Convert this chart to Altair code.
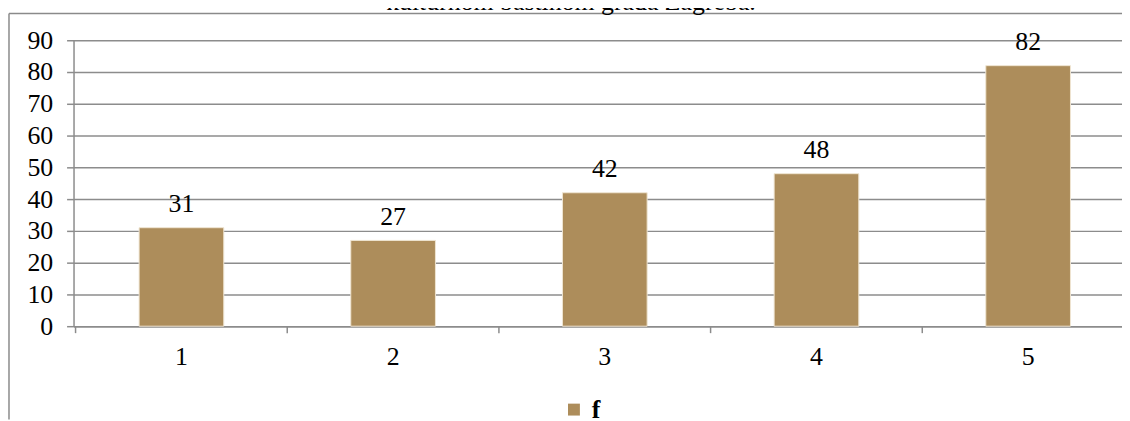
import altair as alt
import pandas as pd

categories = ["1", "2", "3", "4", "5"]
values = [31, 27, 42, 48, 82]
series_name = "f"
title_text = "kulturnom baštinom grada Zagreba."
y_ticks = [0, 10, 20, 30, 40, 50, 60, 70, 80, 90]

df = pd.DataFrame({"cat": categories, "f": values, "series": [series_name] * len(values)})
df_title = pd.DataFrame({"t": [title_text]})
df_frame = pd.DataFrame({"k": [0]})

FONT = "Liberation Serif"
FS = 26
GRID = "#8c8c8c"
BAR = "#ad8d5b"
W = 1056
H = 288

x_enc = alt.X(
    "cat:N", sort=categories, title=None,
    scale=alt.Scale(paddingInner=0.6, paddingOuter=0.2766, align=0.56, round=False),
    axis=alt.Axis(labelAngle=0, ticks=False, domainColor=GRID, domainWidth=1.5,
                  labelFont=FONT, labelFontSize=FS, labelColor="black",
                  labelPadding=18, grid=False),
)
y_enc = alt.Y(
    "f:Q", title=None,
    scale=alt.Scale(domain=[0, 90], nice=False),
    axis=alt.Axis(values=y_ticks, grid=True, gridColor=GRID, gridWidth=1.5,
                  tickSize=7, tickColor=GRID, tickWidth=1.5, domainColor=GRID,
                  domainWidth=1.5, labelFont=FONT, labelFontSize=FS,
                  labelColor="black", labelPadding=14, labelOverlap=False),
)

base = alt.Chart(df)

bars = base.mark_bar(stroke="#efe5d2", strokeWidth=1).encode(
    x=x_enc, y=y_enc,
    color=alt.Color("series:N", scale=alt.Scale(range=[BAR]),
                    legend=alt.Legend(title=None, orient="none", legendX=491, legendY=359,
                                      symbolType="square", symbolSize=144,
                                      symbolStrokeWidth=0, labelFont=FONT,
                                      labelFontSize=FS, labelFontWeight="bold",
                                      labelColor="black", labelOffset=5)),
)

labels = base.mark_text(dy=-16, baseline="alphabetic", font=FONT, fontSize=FS,
                        color="black").encode(x=x_enc, y=y_enc, text="f:Q")

# x-axis ticks at the category boundaries
xticks = base.mark_rule(color=GRID, strokeWidth=1.5, xOffset=-64).encode(
    x=alt.X("cat:N", sort=categories, bandPosition=0, title=None),
    y=alt.value(H), y2=alt.value(H + 7))

title = alt.Chart(df_title).mark_text(font=FONT, fontSize=FS, color="black",
                                      baseline="alphabetic", align="center").encode(
    text="t:N", x=alt.value(501), y=alt.value(-30))

frame_left = alt.Chart(df_frame).mark_rule(color="#8a8a8a", strokeWidth=1.5).encode(
    x=alt.value(-65), y=alt.value(-27), y2=alt.value(382))
frame_top = alt.Chart(df_frame).mark_rule(color="#8a8a8a", strokeWidth=1.5).encode(
    y=alt.value(-27), x=alt.value(-65), x2=alt.value(W))

chart = alt.layer(frame_left, frame_top, title, bars, labels, xticks).properties(
    width=W, height=H,
    autosize=alt.AutoSizeParams(type="none"),
    padding={"left": 66, "top": 31, "right": 0, "bottom": 94},
).configure_view(stroke=None)

chart.save("out.html", embed_options={"renderer": "svg", "actions": False})
